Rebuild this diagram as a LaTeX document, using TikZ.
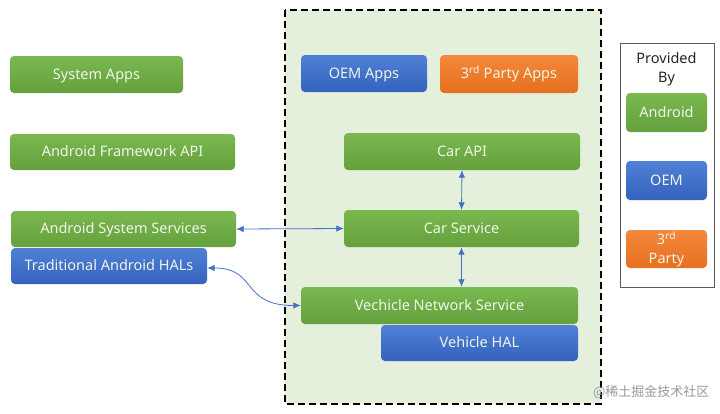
\documentclass[tikz,border=0pt]{standalone}
\usepackage{fontspec}
\setmainfont{Noto Sans}
\newfontfamily\cjk{Noto Sans CJK SC}
\usetikzlibrary{arrows.meta}
\definecolor{gtop}{RGB}{122,184,80}
\definecolor{gbot}{RGB}{100,160,60}
\definecolor{btop}{RGB}{80,128,214}
\definecolor{bbot}{RGB}{52,98,190}
\definecolor{otop}{RGB}{244,136,60}
\definecolor{obot}{RGB}{230,112,30}
\definecolor{arrowblue}{RGB}{68,114,196}
\definecolor{contfill}{RGB}{228,239,220}
\definecolor{boxtext}{RGB}{238,246,232}
\tikzset{
  basebox/.style={rounded corners=4pt, inner sep=0pt, text=boxtext, font=\fontsize{14.5}{17}\selectfont, text height=12pt, text depth=3pt},
  greenbox/.style={basebox, top color=gtop, bottom color=gbot},
  bluebox/.style={basebox, top color=btop, bottom color=bbot},
  orangebox/.style={basebox, top color=otop, bottom color=obot},
  link/.style={draw=arrowblue, line width=0.8pt, {Latex[length=7.5pt,width=6.5pt]}-{Latex[length=7.5pt,width=6.5pt]}}
}
\begin{document}
\begin{tikzpicture}[x=1pt,y=-1pt]
\useasboundingbox (0,0) rectangle (720,413);
\fill[white] (0,0) rectangle (720,413);
% container
\draw[fill=contfill, line width=1.6pt, dash pattern=on 7pt off 4pt] (285,10) rectangle (601,404);
% left
\node[greenbox, minimum width=173pt, minimum height=37pt] (sysapps) at (96.5,74.5) {System Apps};
\node[greenbox, minimum width=225pt, minimum height=36pt] (afapi) at (122.5,152) {Android Framework API};
\node[greenbox, minimum width=225pt, minimum height=36pt] (ass) at (123.5,229) {Android System Services};
\node[bluebox, minimum width=196pt, minimum height=36pt] (tah) at (109,266) {Traditional Android HALs};
% container content
\node[bluebox, minimum width=126pt, minimum height=37pt] (oemapps) at (364,73.5) {OEM Apps};
\node[orangebox, minimum width=138pt, minimum height=38pt] (tpapps) at (509,74) {3\textsuperscript{rd} Party Apps};
\node[greenbox, minimum width=236pt, minimum height=37pt] (capi) at (462,151.5) {Car API};
\node[greenbox, minimum width=235pt, minimum height=37pt] (csvc) at (461.5,228.5) {Car Service};
\node[greenbox, minimum width=277pt, minimum height=37pt] (vns) at (439.5,305.5) {Vechicle Network Service};
\node[bluebox, minimum width=197pt, minimum height=36pt] (vhal) at (479.5,343) {Vehicle HAL};
% legend
\draw[draw=gray!70!black, line width=0.8pt] (620,43) rectangle (714,287);
\node[font=\fontsize{14.5}{19}\selectfont, align=center, text=black!85] (prov) at (666.5,69) {Provided\\By};
\node[greenbox, minimum width=81pt, minimum height=39pt] (lgand) at (666.5,112.5) {Android};
\node[bluebox, minimum width=81pt, minimum height=39pt] (lgoem) at (666.5,180.5) {OEM};
\node[orangebox, minimum width=81pt, minimum height=38pt, align=center, font=\fontsize{14.5}{19}\selectfont, text height=, text depth=] (lgtp) at (666.5,249) {3\textsuperscript{rd}\\Party};
% connectors
\draw[link] (capi.south) -- (csvc.north);
\draw[link] (csvc.south) -- (csvc.south |- vns.north);
\draw[link] (ass.east) -- (csvc.west);
\draw[link] ([yshift=-2pt]tah.east) .. controls (258,268) and (240,305.5) .. (vns.west);
% watermark
\node[font=\cjk\fontsize{13}{15}\selectfont, text=gray!80, anchor=east] (wm) at (713,392) {@稀土掘金技术社区};
\end{tikzpicture}
\end{document}
